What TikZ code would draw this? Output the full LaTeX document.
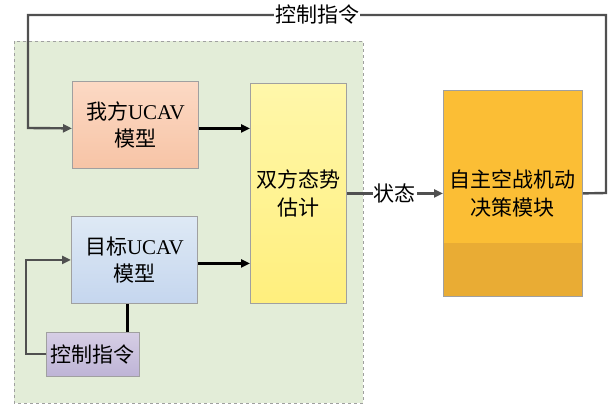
\documentclass[tikz,border=0pt]{standalone}
\usepackage{fontspec}
\setmainfont{Liberation Serif}
\newfontfamily\cjk{Noto Sans CJK SC}
\usetikzlibrary{arrows.meta,shadings}
\definecolor{conn}{HTML}{505050}
\definecolor{bord}{HTML}{A0A0A0}
\definecolor{greenbg}{HTML}{E3EDD8}
\definecolor{peachT}{HTML}{FCD9C4}
\definecolor{peachB}{HTML}{F7C4A6}
\definecolor{blueT}{HTML}{DEE9F5}
\definecolor{blueB}{HTML}{C5D6EE}
\definecolor{lavT}{HTML}{D6CEE5}
\definecolor{lavB}{HTML}{BEB4D6}
\definecolor{yelT}{HTML}{FFF7AA}
\definecolor{yelB}{HTML}{FFEF7D}
\definecolor{orT}{HTML}{FBBE35}
\definecolor{orB}{HTML}{E9AC34}
\begin{document}
\begin{tikzpicture}[x=1pt,y=-1pt,
  txt/.style={font=\fontsize{21}{27.5}\selectfont\cjk},
  blk/.style={draw=bord, line width=0.8pt, inner sep=0pt, align=center, anchor=north west, txt},
  gline/.style={draw=conn, line width=2.4pt},
  bline/.style={draw=black, line width=2.6pt},
  arr/.style={-{Triangle[length=9pt,width=8pt]}},
]
\useasboundingbox (0,0) rectangle (616,406);
\draw[draw=bord, dashed, fill=greenbg, line width=0.7pt] (14,41) rectangle (363,403);

\node[blk, minimum width=126pt, minimum height=87pt, top color=peachT, bottom color=peachB] (own) at (72,81) {我方{\fontspec{Liberation Serif}UCAV}\\模型};
\node[blk, minimum width=126pt, minimum height=87pt, top color=blueT, bottom color=blueB] (tgt) at (71,216) {目标{\fontspec{Liberation Serif}UCAV}\\模型};
\node[blk, minimum width=93pt, minimum height=44pt, top color=lavT, bottom color=lavB] (ctl) at (46,332) {控制指令};
\node[blk, minimum width=96pt, minimum height=220pt, top color=yelT, bottom color=yelB] (est) at (250,83) {双方态势\\估计};
\node[blk, minimum width=139pt, minimum height=206pt, fill=orT,
  path picture={\fill[orB] ([yshift=53pt]path picture bounding box.south west) rectangle (path picture bounding box.south east);}] (dec) at (443,90) {自主空战机动\\决策模块};

% feedback loop on top
\coordinate (r1) at (606,193);
\coordinate (r2) at (606,15);
\coordinate (l1) at (28,15);
\coordinate (l2) at (28,128);
\draw[gline, arr] (dec.east) -- (r1) -- (r2) -- node[txt, fill=white, inner sep=1pt] (lab1) {控制指令} (l1) -- (l2) -- ([yshift=-3.5pt]own.west);

% own -> est
\draw[bline, arr] ([yshift=-3.5pt]own.east) -- ([yshift=-3.5pt]own.east -| est.west);
% tgt -> est
\draw[bline, arr] ([yshift=-3.5pt]tgt.east) -- ([yshift=-3.5pt]tgt.east -| est.west);
% ctl -> tgt
\coordinate (c1) at (26,354);
\draw[gline, arr] (ctl.west |- c1) -- (c1) -- (c1 |- tgt.west) -- (tgt.west);
\draw[bline] ([xshift=-7pt]tgt.south) -- ([xshift=-7pt]tgt.south |- ctl.north);
% est -> dec
\draw[gline, arr] (est.east) -- node[txt, fill=white, inner sep=1pt] (lab2) {状态} (dec.west);
\end{tikzpicture}
\end{document}
